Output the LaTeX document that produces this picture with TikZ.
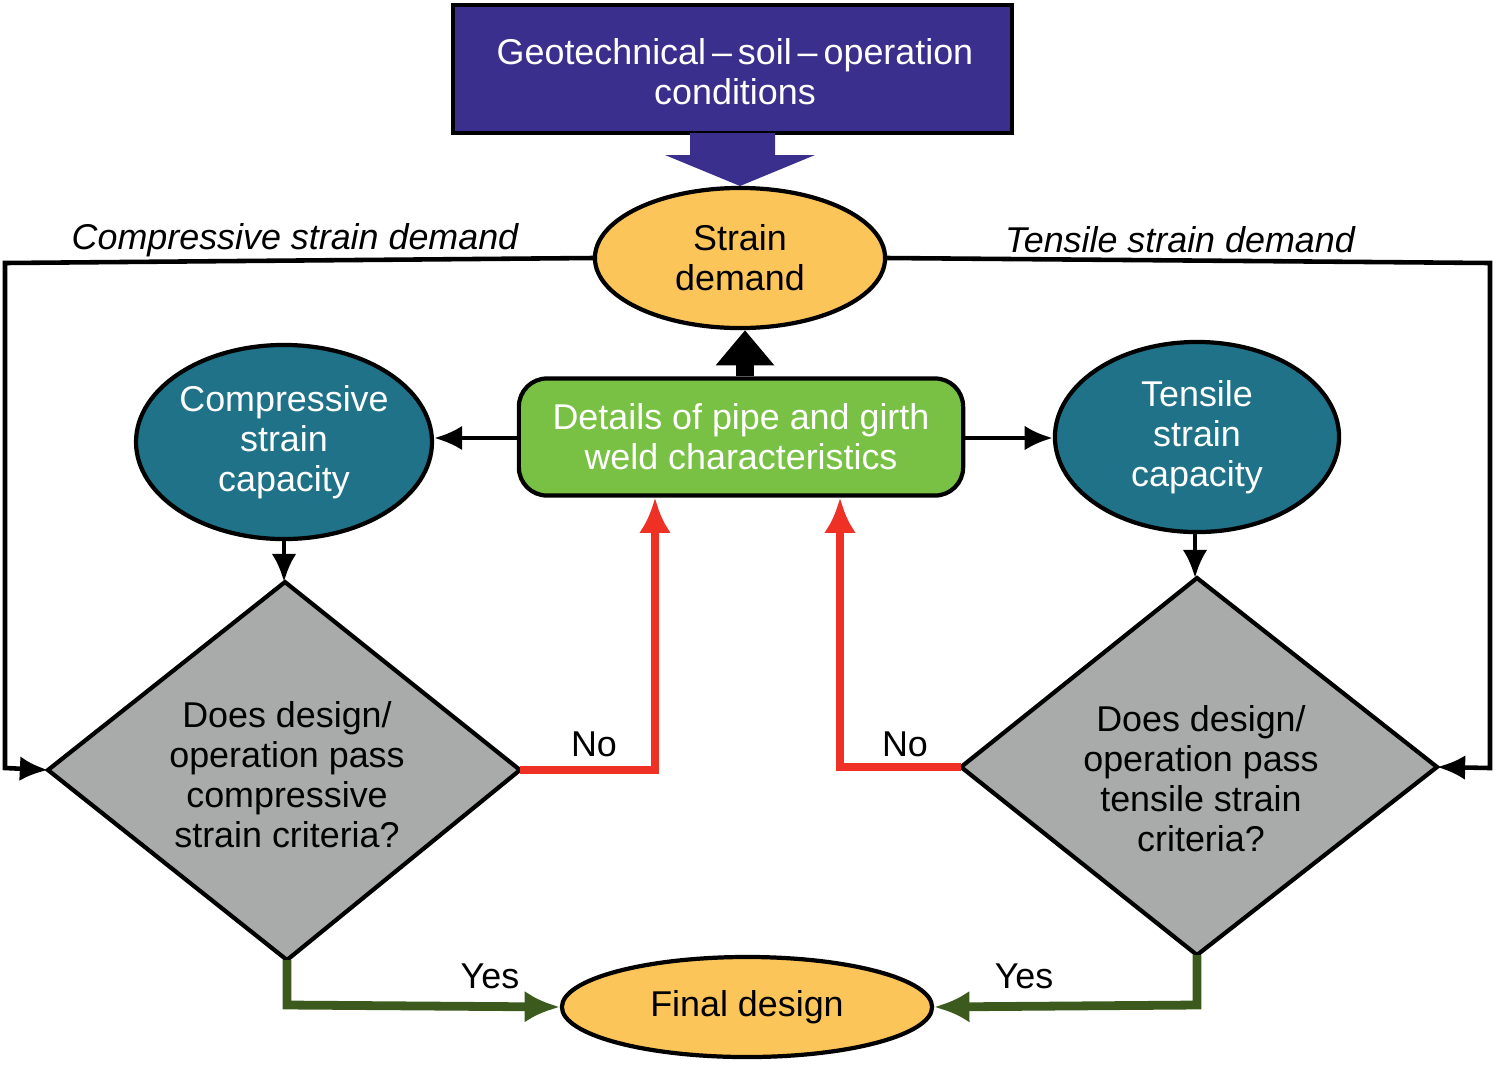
\documentclass[tikz,border=0pt]{standalone}
\usepackage{fontspec}
\setmainfont{Liberation Sans}
\usetikzlibrary{shapes.geometric,arrows.meta}
\definecolor{topblue}{HTML}{3B2F8E}
\definecolor{orng}{HTML}{FCC55A}
\definecolor{teal}{HTML}{1F7287}
\definecolor{grn}{HTML}{78C144}
\definecolor{gry}{HTML}{A9AAAA}
\definecolor{dgrn}{HTML}{3C5A1E}
\definecolor{rd}{HTML}{EE3124}
\begin{document}
\begin{tikzpicture}[x=0.01cm,y=-0.01cm,
  txt/.style={font=\fontsize{10.2}{11.4}\selectfont,align=center},
  ell/.style={ellipse,draw=black,line width=1.2pt,inner sep=0pt,txt},
  conn/.style={line width=1.3pt,-{Latex[length=8pt,width=7pt]}},
  red/.style={conn,draw=rd,line width=2.5pt,-{Latex[length=10pt,width=9pt]},color=rd},
  yes/.style={conn,draw=dgrn,line width=2.5pt,-{Latex[length=10pt,width=9pt]},color=dgrn}]
\useasboundingbox (0,0) rectangle (1500,1075);
% top box
\fill[topblue,draw=black,line width=1.2pt] (453,5) rectangle (1012,133);
\node[txt,text=white] (toptxt) at (735,72) {Geotechnical\,–\,soil\,–\,operation\\conditions};
\fill[topblue] (690,133) -- (775,133) -- (775,155) -- (815,155) -- (740,186) -- (665,155) -- (690,155) -- cycle;
% strain demand
\node[ell,fill=orng,minimum width=2.9cm,minimum height=1.4cm] (sd) at (740,258) {Strain\\demand};
\node[font=\fontsize{10.2}{12}\selectfont\itshape] (cl) at (295,240) {Compressive strain demand};
\node[font=\fontsize{10.2}{12}\selectfont\itshape] (tl) at (1180,240) {Tensile strain demand};
% green
\node[draw=black,line width=1.2pt,fill=grn,rounded corners=8pt,minimum width=4.44cm,minimum height=1.17cm,txt,text=white] (gr) at (741,437) {Details of pipe and girth\\weld characteristics};
\node[ell,fill=teal,text=white,minimum width=2.94cm,minimum height=1.94cm] (ce) at (284,442) {Compressive\\strain\\capacity};
\node[ell,fill=teal,text=white,minimum width=2.84cm,minimum height=1.9cm] (te) at (1197,437) {Tensile\\strain\\capacity};
% diamonds
\coordinate (ldT) at (285,582); \coordinate (ldB) at (287,960);
\coordinate (ldL) at (48,770); \coordinate (ldR) at (520,770);
\filldraw[gry,draw=black,line width=1.2pt] (ldT) -- (ldR) -- (ldB) -- (ldL) -- cycle;
\node[txt] (ldt) at (287,775) {Does design/\\operation pass\\compressive\\strain criteria?};
\coordinate (rdT) at (1197,578); \coordinate (rdB) at (1197,955);
\coordinate (rdL) at (961,767); \coordinate (rdR) at (1437,767);
\filldraw[gry,draw=black,line width=1.2pt] (rdT) -- (rdR) -- (rdB) -- (rdL) -- cycle;
\node[txt] (rdt) at (1201,779) {Does design/\\operation pass\\tensile strain\\criteria?};
% final
\node[ell,fill=orng,minimum width=3.7cm,minimum height=1cm] (fd) at (747,1007) {Final design};
% connectors
\draw[-{Triangle[length=10pt,width=16pt]},line width=5pt] (gr.north -| 745,0) -- (sd.south -| 745,0);
\draw[conn] (sd.west) -- (5,263) -- (5,768) -- (ldL);
\draw[conn] (sd.east) -- (1490,263) -- (1490,768) -- (rdR);
\draw[conn] (gr.west |- 0,438) -- (ce.east |- 0,438);
\draw[conn] (gr.east |- 0,438) -- (te.west |- 0,438);
\draw[conn] (ce.south -| 284,0) -- (ldT -| 284,0);
\draw[conn] (te.south -| 1195,0) -- (rdT -| 1195,0);
\draw[red] (ldR) -- (655,770) -- (gr.south -| 655,0);
\draw[red] (rdL) -- (840,767) -- (gr.south -| 840,0);
\node[txt] (no1) at (594,744) {No};
\node[txt] (no2) at (905,744) {No};
\draw[yes] (ldB) -- (287,1005) -- (fd.west);
\draw[yes] (rdB) -- (1197,1005) -- (fd.east);
\node[txt] (y1) at (490,976) {Yes};
\node[txt] (y2) at (1024,976) {Yes};
\end{tikzpicture}
\end{document}
